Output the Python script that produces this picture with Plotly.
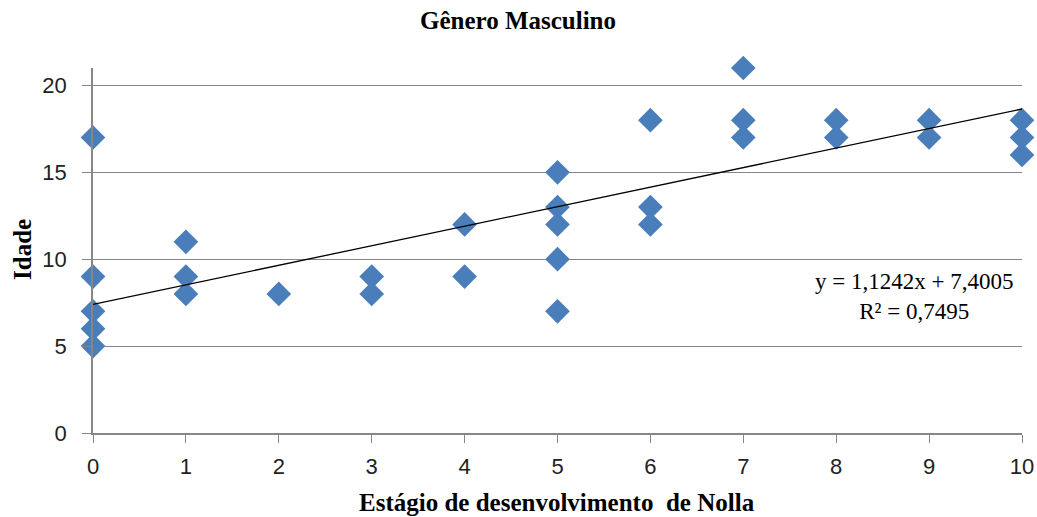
import numpy as np
import plotly.graph_objs as go

# Nolla stage (x) and age (y) for each observation
estagio = [0, 0, 0, 0, 0,
           1, 1, 1,
           2,
           3, 3,
           4, 4,
           5, 5, 5, 5, 5,
           6, 6, 6,
           7, 7, 7,
           8, 8,
           9, 9,
           10, 10, 10]
idade = [17, 9, 7, 6, 5,
         11, 9, 8,
         8,
         9, 8,
         12, 9,
         15, 13, 12, 10, 7,
         18, 13, 12,
         21, 18, 17,
         18, 17,
         18, 17,
         18, 17, 16]

# linear trendline coefficients as printed on the chart
slope = 1.1242
intercept = 7.4005
r2 = 0.7495

x_line = np.array([0, 10])
y_line = slope * x_line + intercept

axis_gray = '#868686'
serif = 'Liberation Serif'
sans = 'Liberation Sans'

fig = go.Figure()
fig.add_trace(go.Scatter(x=estagio, y=idade, mode='markers',
                         marker=dict(symbol='diamond', size=19, color='#4A7EBB'),
                         showlegend=False, cliponaxis=False))
fig.add_trace(go.Scatter(x=x_line, y=y_line, mode='lines',
                         line=dict(color='black', width=1.3),
                         showlegend=False, cliponaxis=False))

fig.add_annotation(x=8.84, y=7.85, xref='x', yref='y', showarrow=False,
                   text='y = 1,1242x + 7,4005<br>R² = 0,7495',
                   font=dict(family=serif, size=23, color='black'), align='center')

# axis titles placed as paper annotations
fig.add_annotation(x=(557 - 93) / 929, y=-(503 - 433) / 365, xref='paper', yref='paper',
                   xanchor='center', yanchor='middle',
                   showarrow=False, text='<b>Estágio de desenvolvimento  de Nolla</b>',
                   font=dict(family=serif, size=25, color='black'))
fig.add_annotation(x=-(93 - 23) / 929, y=(433 - 250) / 365, xref='paper', yref='paper',
                   xanchor='center', yanchor='middle',
                   showarrow=False, textangle=-90, text='<b>Idade</b>',
                   font=dict(family=serif, size=25, color='black'))

fig.update_layout(
    width=1037, height=517,
    margin=dict(l=93, r=15, t=68, b=84),
    plot_bgcolor='white', paper_bgcolor='white',
    title=dict(text='<b>Gênero Masculino</b>', x=518 / 1037, xanchor='center',
               y=1 - 20 / 517, yanchor='middle',
               font=dict(family=serif, size=25, color='black')),
)
fig.update_xaxes(range=[0, 10], tickmode='linear', dtick=1, showgrid=False,
                 showline=True, linecolor=axis_gray, linewidth=1.5,
                 ticks='outside', ticklen=8, tickcolor=axis_gray, ticklabelstandoff=5,
                 ticklabeloverflow='allow',
                 tickfont=dict(family=sans, size=22, color='#222'),
                 zeroline=False, automargin=False)
fig.update_yaxes(range=[0, 21], tickvals=[0, 5, 10, 15, 20], showgrid=True,
                 gridcolor=axis_gray, gridwidth=1.2,
                 showline=True, linecolor=axis_gray, linewidth=1.5,
                 ticks='outside', ticklen=9, tickcolor=axis_gray, ticklabelstandoff=11,
                 tickfont=dict(family=sans, size=22, color='#222'),
                 zeroline=False, automargin=False)

# drop the default page margin so the figure sits at the window's corner
fig.write_html("out.html", config={'displayModeBar': False},
               post_script="document.body.style.margin='0';")
